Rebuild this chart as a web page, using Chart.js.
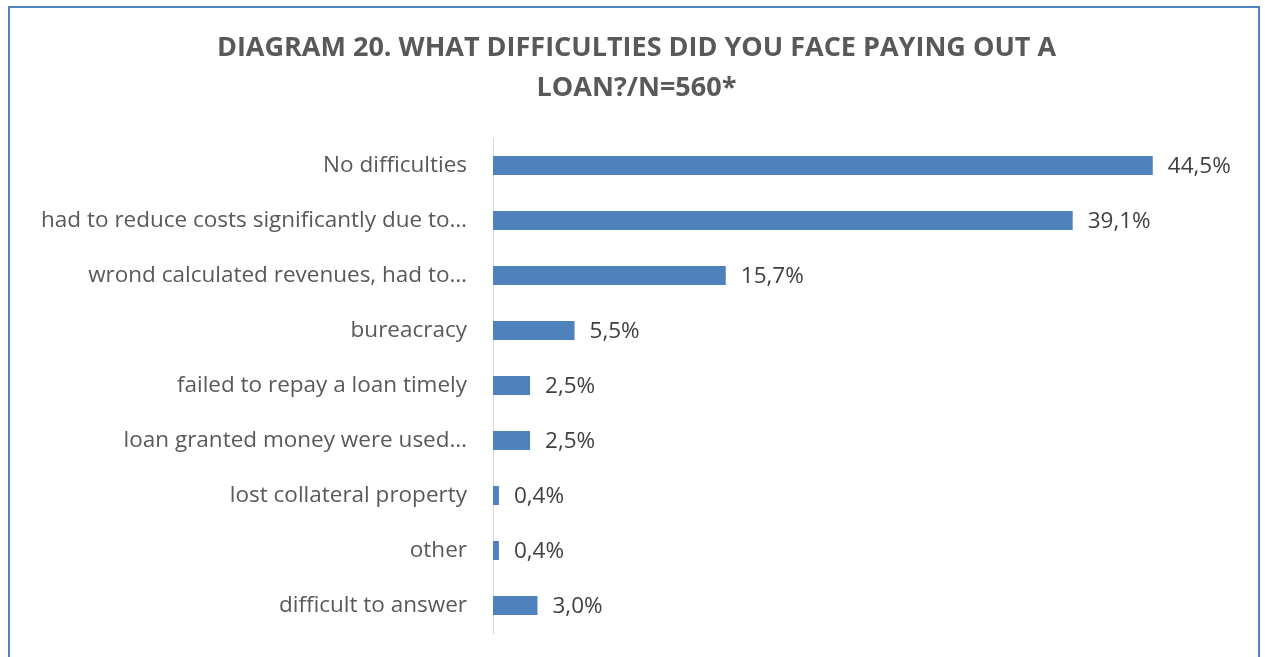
<!DOCTYPE html>
<html>
<head>
<meta charset="utf-8">
<script src="https://cdn.jsdelivr.net/npm/chart.js@4"></script>
<style>
  html, body { margin: 0; padding: 0; background: #fff; overflow: hidden; }
  #frame {
    position: absolute; left: 8px; top: 6px; width: 1252px; height: 700px;
    border: 2px solid #4f81bd; box-sizing: border-box; pointer-events: none;
  }
  #wrap { position: absolute; left: 0; top: 0; width: 1265px; height: 657px; }
</style>
</head>
<body>
<div id="wrap"><canvas id="chart" width="1265" height="657"></canvas></div>
<div id="frame"></div>
<script>
const categories = [
  "No difficulties",
  "had to reduce costs significantly due to…",
  "wrond calculated revenues, had to…",
  "bureacracy",
  "failed to repay a loan timely",
  "loan granted money were used…",
  "lost collateral property",
  "other",
  "difficult to answer"
];
const shares = [44.5, 39.1, 15.7, 5.5, 2.5, 2.5, 0.4, 0.4, 3.0];
const titleLines = ["DIAGRAM 20. WHAT DIFFICULTIES DID YOU FACE PAYING OUT A", "LOAN?/N=560*"];

const FONT = "'Open Sans', Lato, sans-serif";

// prints "44,5%" etc. to the right of each bar
const valueLabels = {
  id: 'valueLabels',
  afterDatasetsDraw(chart) {
    const ctx = chart.ctx;
    const meta = chart.getDatasetMeta(0);
    ctx.save();
    ctx.font = "22.5px " + FONT;
    ctx.fillStyle = '#404040';
    ctx.textAlign = 'left';
    ctx.textBaseline = 'middle';
    meta.data.forEach((bar, i) => {
      const txt = shares[i].toFixed(1).replace('.', ',') + '%';
      ctx.fillText(txt, bar.x + 15, bar.y + 1);
    });
    ctx.restore();
  }
};

const ctx = document.getElementById('chart');
new Chart(ctx, {
  type: 'bar',
  data: {
    labels: categories,
    datasets: [{
      data: shares,
      backgroundColor: '#4f81bd',
      borderWidth: 0,
      categoryPercentage: 1,
      barPercentage: 0.345
    }]
  },
  options: {
    indexAxis: 'y',
    responsive: false,
    animation: false,
    layout: { padding: { top: 0, right: 0, bottom: 24, left: 8 } },
    plugins: {
      legend: { display: false },
      tooltip: { enabled: false },
      title: {
        display: true,
        text: titleLines,
        color: '#595959',
        font: { family: FONT, size: 27, weight: 'bold', lineHeight: 1.5 },
        padding: { top: 28, bottom: 29 }
      }
    },
    scales: {
      x: {
        display: false,
        min: 0,
        max: 52.07
      },
      y: {
        afterFit(scale) {
          scale.width = 485;
          // the tick padding should not shrink the plot vertically
          scale.paddingTop = 0;
          scale.paddingBottom = 0;
        },
        grid: { display: false, drawTicks: false },
        border: { display: true, color: '#d9d9d9', width: 1 },
        ticks: {
          color: '#595959',
          padding: 26,
          font: { family: FONT, size: 22.5 }
        }
      }
    }
  },
  plugins: [valueLabels]
});
</script>
</body>
</html>
